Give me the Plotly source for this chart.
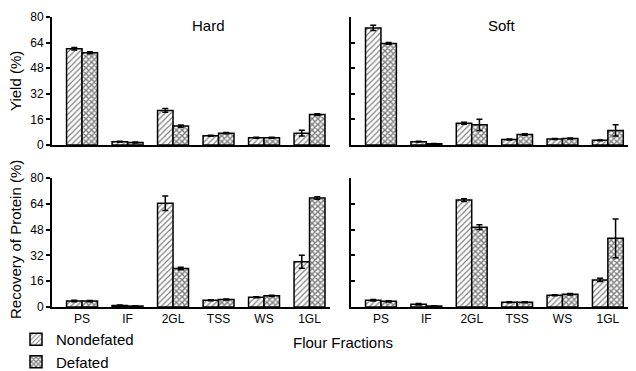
import plotly.graph_objects as go

categories = ["PS", "IF", "2GL", "TSS", "WS", "1GL"]
y_ticks = [0, 16, 32, 48, 64, 80]

hard_yield_nondef = [60.2, 2.1, 21.6, 5.8, 4.5, 7.4]
hard_yield_nondef_err = [0.8, 0.3, 1.2, 0.3, 0.3, 1.8]
hard_yield_def = [57.7, 1.6, 11.8, 7.4, 4.5, 19.0]
hard_yield_def_err = [0.6, 0.3, 0.7, 0.4, 0.3, 0.6]

soft_yield_nondef = [73.2, 2.1, 13.6, 3.5, 3.7, 2.9]
soft_yield_nondef_err = [1.6, 0.3, 0.6, 0.3, 0.3, 0.3]
soft_yield_def = [63.5, 0.8, 12.6, 6.6, 4.1, 9.1]
soft_yield_def_err = [0.5, 0.2, 3.5, 0.5, 0.3, 3.5]

hard_rec_nondef = [3.7, 1.0, 64.4, 4.2, 6.0, 28.1]
hard_rec_nondef_err = [0.5, 0.2, 4.5, 0.3, 0.3, 4.0]
hard_rec_def = [3.7, 0.6, 23.9, 4.6, 6.9, 67.6]
hard_rec_def_err = [0.4, 0.2, 0.8, 0.3, 0.4, 0.8]

soft_rec_nondef = [4.2, 1.7, 66.3, 2.9, 7.3, 16.8]
soft_rec_nondef_err = [0.5, 0.5, 0.8, 0.3, 0.3, 1.0]
soft_rec_def = [3.5, 0.6, 49.5, 2.9, 7.9, 42.6]
soft_rec_def_err = [0.4, 0.2, 1.5, 0.3, 0.4, 12.0]

FONT = "Liberation Sans, Arial, Helvetica, sans-serif"

nondef_style = dict(color="white", line=dict(color="black", width=1.5),
                    pattern=dict(shape="/", fgcolor="black", bgcolor="white", size=4, solidity=0.3))
def_style = dict(color="white", line=dict(color="black", width=1.5),
                 pattern=dict(shape="x", fgcolor="black", bgcolor="white", size=4, solidity=0.6))

fig = go.Figure()
x_idx = list(range(len(categories)))

panels = [
    ("x", "y", hard_yield_nondef, hard_yield_nondef_err, hard_yield_def, hard_yield_def_err, True),
    ("x2", "y2", soft_yield_nondef, soft_yield_nondef_err, soft_yield_def, soft_yield_def_err, False),
    ("x3", "y3", hard_rec_nondef, hard_rec_nondef_err, hard_rec_def, hard_rec_def_err, False),
    ("x4", "y4", soft_rec_nondef, soft_rec_nondef_err, soft_rec_def, soft_rec_def_err, False),
]
for xa, ya, nd, nde, d, de, show in panels:
    fig.add_trace(go.Bar(x=x_idx, y=nd, xaxis=xa, yaxis=ya, name="Nondefated",
                         marker=nondef_style, showlegend=show, offsetgroup="a",
                         error_y=dict(type="data", array=nde, color="black", thickness=1.5, width=3)))
    fig.add_trace(go.Bar(x=x_idx, y=d, xaxis=xa, yaxis=ya, name="Defated",
                         marker=def_style, showlegend=show, offsetgroup="b",
                         error_y=dict(type="data", array=de, color="black", thickness=1.5, width=3)))

# page body has an 8px default margin; size the figure to fit the window
OFF = 8
W, H = 636 - OFF, 371 - OFF
def px_x(p):
    return (p - OFF) / W
def px_y(p):
    return 1 - (p - OFF) / H

xl = [px_x(52), px_x(330)]
xr = [px_x(351), 1.0]
yt = [px_y(145), px_y(17)]
yb = [px_y(307), px_y(178)]

def xaxis(dom, rng, anchor, labels):
    return dict(domain=dom, range=rng, anchor=anchor, showline=True, linecolor="black", linewidth=2,
                ticks="", tickmode="array", tickvals=x_idx, ticktext=categories,
                showticklabels=labels, showgrid=False, zeroline=False, automargin=False,
                tickfont=dict(family=FONT, size=12, color="black"))

def yaxis(dom, anchor, labels):
    return dict(domain=dom, range=[0, 80], anchor=anchor, showline=True, linecolor="black", linewidth=2,
                ticks="outside" if labels else "inside", ticklen=4, tickwidth=1.5, tickcolor="black",
                tickmode="array", tickvals=y_ticks, showticklabels=labels,
                showgrid=False, zeroline=False, automargin=False,
                tickfont=dict(family=FONT, size=12, color="black"))

rl = [-0.66, 5.45]
rr = [-0.66, 5.62]

def label(text, x, y, angle=0):
    return dict(text=text, x=px_x(x), y=px_y(y), xref="paper", yref="paper", showarrow=False,
                xanchor="center", yanchor="middle", textangle=angle,
                font=dict(family=FONT, size=15, color="black"))

fig.update_layout(
    width=W, height=H, margin=dict(l=0, r=0, t=0, b=0, autoexpand=False),
    paper_bgcolor="white", plot_bgcolor="white",
    barmode="group", bargap=0.32, bargroupgap=0,
    font=dict(family=FONT, color="black"),
    xaxis=xaxis(xl, rl, "y", False),
    xaxis2=xaxis(xr, rr, "y2", False),
    xaxis3=xaxis(xl, rl, "y3", True),
    xaxis4=xaxis(xr, rr, "y4", True),
    yaxis=yaxis(yt, "x", True),
    yaxis2=yaxis(yt, "x2", False),
    yaxis3=yaxis(yb, "x3", True),
    yaxis4=yaxis(yb, "x4", False),
    legend=dict(x=px_x(16), y=-7 / H, xanchor="left", yanchor="bottom",
                font=dict(family=FONT, size=15, color="black"),
                bgcolor="rgba(0,0,0,0)", borderwidth=0, tracegroupgap=0, itemwidth=30,
                traceorder="normal"),
    annotations=[
        label("Hard", 208, 25),
        label("Soft", 502, 25),
        label("Yield (%)", 15, 81, -90),
        label("Recovery of Protein (%)", 15, 240, -90),
        label("Flour Fractions", 343, 342),
    ],
)

fig.write_html("out.html")
